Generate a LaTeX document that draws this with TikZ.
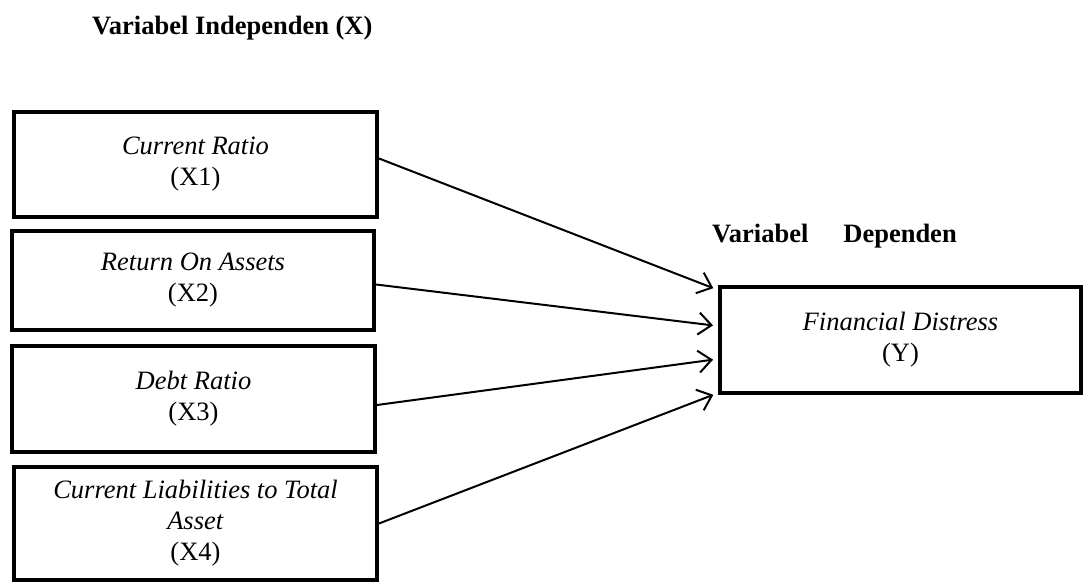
\documentclass[tikz,border=0pt]{standalone}
\usepackage{fontspec}
\setmainfont{Liberation Serif}
\usetikzlibrary{arrows.meta}
\begin{document}
\begin{tikzpicture}[x=1pt,y=-1pt,
  varbox/.style={draw=black,line width=4pt,rectangle,inner sep=0pt,align=center,
    font=\fontsize{26.5}{31}\selectfont},
  title/.style={inner sep=0pt,font=\fontsize{26.5}{31}\selectfont\bfseries},
  link/.style={line width=2pt,-{Straight Barb[length=13pt,width=22pt,line width=2pt]},shorten >=5pt}]
\useasboundingbox (0,0) rectangle (1085,585);
\node[title,anchor=base west] (tx) at (92,35) {Variabel Independen (X)};
\node[title,anchor=base west] (ty) at (712,243) {Variabel\hspace{35pt}Dependen};
\node[varbox,minimum width=363pt,minimum height=105pt] (b1) at (195.5,164.5) {\textit{Current Ratio}\\(X1)};
\node[varbox,minimum width=362pt,minimum height=99pt] (b2) at (193,280.5) {\textit{Return On Assets}\\(X2)};
\node[varbox,minimum width=363pt,minimum height=106pt] (b3) at (193.5,399) {\textit{Debt Ratio}\\(X3)};
\node[varbox,minimum width=363pt,minimum height=113pt] (b4) at (195.5,523.5) {\textit{Current Liabilities to Total}\\\textit{Asset}\\(X4)};
\node[varbox,minimum width=361pt,minimum height=106pt] (yb) at (900.5,340) {\textit{Financial Distress}\\(Y)};
\coordinate (e1) at ([yshift=50pt]yb.west);
\coordinate (e2) at ([yshift=14pt]yb.west);
\coordinate (e3) at ([yshift=-19pt]yb.west);
\coordinate (e4) at ([yshift=-53pt]yb.west);
\draw[link] ([yshift=6pt]b1.east) -- (e1);
\draw[link] ([yshift=-4pt]b2.east) -- (e2);
\draw[link] ([yshift=-6pt]b3.east) -- (e3);
\draw[link] (b4.east) -- (e4);
\end{tikzpicture}
\end{document}
